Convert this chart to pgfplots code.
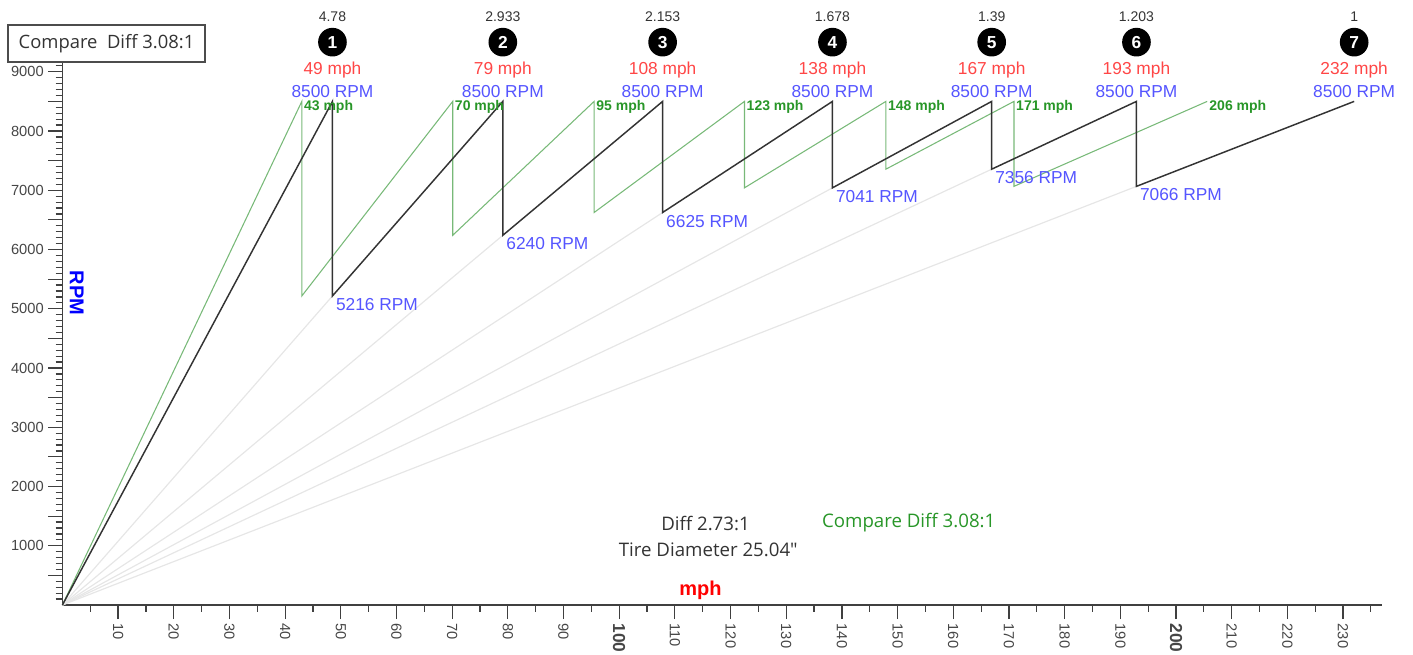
\documentclass[border=0pt]{standalone}
\usepackage{pgfplots}
\pgfplotsset{compat=1.18}
\usepackage{fontspec}
\setmainfont{Liberation Sans}
\newfontfamily\uifont{Open Sans}
\definecolor{rpmblue}{RGB}{85,85,255}
\definecolor{mphred}{RGB}{255,70,70}
\definecolor{cmpgreen}{RGB}{120,185,120}
\definecolor{cmptext}{RGB}{40,150,40}
\definecolor{ticktext}{RGB}{70,70,70}
\definecolor{fanline}{RGB}{230,230,230}
\newcommand{\fs}[1]{\fontsize{#1}{#1}\selectfont}

\begin{document}
\begin{tikzpicture}
% 1 px of the reference = 0.75pt
\useasboundingbox ({-62.4*0.75pt},{-49*0.75pt}) rectangle ({1350.6*0.75pt},{605*0.75pt});
\begin{axis}[
  scale only axis,
  width=989.7pt, height=407.25pt,
  xmin=0, xmax=237, ymin=0, ymax=9165,
  axis x line=bottom, axis y line=left,
  axis line style={-, line width=1.1pt, black!75},
  tick align=outside,
  major tick length=10.5pt, minor tick length=5pt,
  every tick/.style={black!75, line width=0.9pt},
  xtick={10,20,...,230},
  minor x tick num=1,
  xticklabels={10,20,30,40,50,60,70,80,90,{\fs{13}\bfseries 100},110,120,130,140,150,160,170,180,190,{\fs{13}\bfseries 200},210,220,230},
  extra x ticks={5,235},
  extra x tick labels={},
  extra x tick style={major tick length=5pt},
  xticklabel style={rotate=-90, anchor=west, font=\fs{11}, text=ticktext},
  ytick={500,1000,...,9000},
  yticklabels={,1000,,2000,,3000,,4000,,5000,,6000,,7000,,8000,,9000},
  minor y tick num=4,
  extra y ticks={100,200,300,400,9100},
  extra y tick labels={},
  extra y tick style={major tick length=5pt},
  yticklabel style={font=\fs{11}, text=ticktext},
  /pgf/number format/assume math mode=true,
  /pgf/number format/set thousands separator={},
  clip=false,
]
% light fan lines for gears 2-7
\addplot[fanline, line width=0.9pt] coordinates {(0,0) (48.5,5216)};
\addplot[fanline, line width=0.9pt] coordinates {(0,0) (79.1,6240)};
\addplot[fanline, line width=0.9pt] coordinates {(0,0) (107.8,6625)};
\addplot[fanline, line width=0.9pt] coordinates {(0,0) (138.3,7041)};
\addplot[fanline, line width=0.9pt] coordinates {(0,0) (166.9,7356)};
\addplot[fanline, line width=0.9pt] coordinates {(0,0) (192.9,7066)};
% compare diff 3.08:1
\addplot[cmpgreen, line width=0.8pt] coordinates {
  (0,0) (43.0,8500) (43.0,5216) (70.1,8500) (70.1,6240) (95.5,8500) (95.5,6625)
  (122.5,8500) (122.5,7041) (147.9,8500) (147.9,7356) (170.9,8500) (170.9,7066) (205.6,8500)
};
% diff 2.73:1
\addplot[black!80, line width=1.1pt] coordinates {
  (0,0) (48.5,8500) (48.5,5216) (79.1,8500) (79.1,6240) (107.8,8500) (107.8,6625)
  (138.3,8500) (138.3,7041) (166.9,8500) (166.9,7356) (192.9,8500) (192.9,7066) (232.0,8500)
};

% gear headers
\tikzset{ratio/.style={font=\fs{10.5}, text=black!80},
  gear/.style={circle, fill=black, text=white, minimum size=21.5pt, inner sep=0pt, font=\fs{13}\bfseries},
  topmph/.style={font=\fs{13}, text=mphred},
  toprpm/.style={font=\fs{13}, text=rpmblue},
  cmpmph/.style={font=\fs{10.5}\bfseries, text=cmptext, anchor=west, inner sep=0pt, xshift=1.5pt},
  droprpm/.style={font=\fs{13}, text=rpmblue, anchor=west, inner sep=0pt, xshift=2.5pt, yshift=-6.5pt}}
\node[ratio] at (axis cs:48.5,9922) {4.78};
\node[gear] at (axis cs:48.5,9500) {1};
\node[topmph] at (axis cs:48.5,9028) {49 mph};
\node[toprpm] at (axis cs:48.5,8674) {8500 RPM};
\node[ratio] at (axis cs:79.1,9922) {2.933};
\node[gear] at (axis cs:79.1,9500) {2};
\node[topmph] at (axis cs:79.1,9028) {79 mph};
\node[toprpm] at (axis cs:79.1,8674) {8500 RPM};
\node[ratio] at (axis cs:107.8,9922) {2.153};
\node[gear] at (axis cs:107.8,9500) {3};
\node[topmph] at (axis cs:107.8,9028) {108 mph};
\node[toprpm] at (axis cs:107.8,8674) {8500 RPM};
\node[ratio] at (axis cs:138.3,9922) {1.678};
\node[gear] at (axis cs:138.3,9500) {4};
\node[topmph] at (axis cs:138.3,9028) {138 mph};
\node[toprpm] at (axis cs:138.3,8674) {8500 RPM};
\node[ratio] at (axis cs:166.9,9922) {1.39};
\node[gear] at (axis cs:166.9,9500) {5};
\node[topmph] at (axis cs:166.9,9028) {167 mph};
\node[toprpm] at (axis cs:166.9,8674) {8500 RPM};
\node[ratio] at (axis cs:192.9,9922) {1.203};
\node[gear] at (axis cs:192.9,9500) {6};
\node[topmph] at (axis cs:192.9,9028) {193 mph};
\node[toprpm] at (axis cs:192.9,8674) {8500 RPM};
\node[ratio] at (axis cs:232.0,9922) {1};
\node[gear] at (axis cs:232.0,9500) {7};
\node[topmph] at (axis cs:232.0,9028) {232 mph};
\node[toprpm] at (axis cs:232.0,8674) {8500 RPM};

% compare shift speeds
\node[cmpmph] at (axis cs:43.0,8415) {43 mph};
\node[cmpmph] at (axis cs:70.1,8415) {70 mph};
\node[cmpmph] at (axis cs:95.5,8415) {95 mph};
\node[cmpmph] at (axis cs:122.5,8415) {123 mph};
\node[cmpmph] at (axis cs:147.9,8415) {148 mph};
\node[cmpmph] at (axis cs:170.9,8415) {171 mph};
\node[cmpmph] at (axis cs:205.6,8415) {206 mph};

% rpm after shift
\node[droprpm] at (axis cs:48.5,5216) {5216 RPM};
\node[droprpm] at (axis cs:79.1,6240) {6240 RPM};
\node[droprpm] at (axis cs:107.8,6625) {6625 RPM};
\node[droprpm] at (axis cs:138.3,7041) {7041 RPM};
\node[droprpm] at (axis cs:166.9,7356) {7356 RPM};
\node[droprpm] at (axis cs:192.9,7066) {7066 RPM};

% axis titles and notes
\node[font=\fs{15}\bfseries, text=red] at (axis cs:114.6,253) {mph};
\node[font=\fs{15}\bfseries, text=blue, rotate=-90] at (axis cs:2.6,5265) {RPM};
\node[font=\uifont\fs{14}, text=black!80] at (axis cs:115.5,1384) {Diff 2.73:1};
\node[font=\uifont\fs{14}, text=black!80] at (axis cs:116,928) {Tire Diameter 25.04"};
\node[font=\uifont\fs{14}, text=cmptext] at (axis cs:152,1384) {Compare Diff 3.08:1};
\end{axis}
\node[draw=black!70, fill=white, line width=0.9pt, inner sep=0pt,
  minimum width=147.75pt, minimum height=27.75pt, font=\uifont\fs{13.8}, text=black!80]
  at ({44.1*0.75pt},{561.5*0.75pt}) {Compare\ \ Diff 3.08:1};
\end{tikzpicture}
\end{document}
